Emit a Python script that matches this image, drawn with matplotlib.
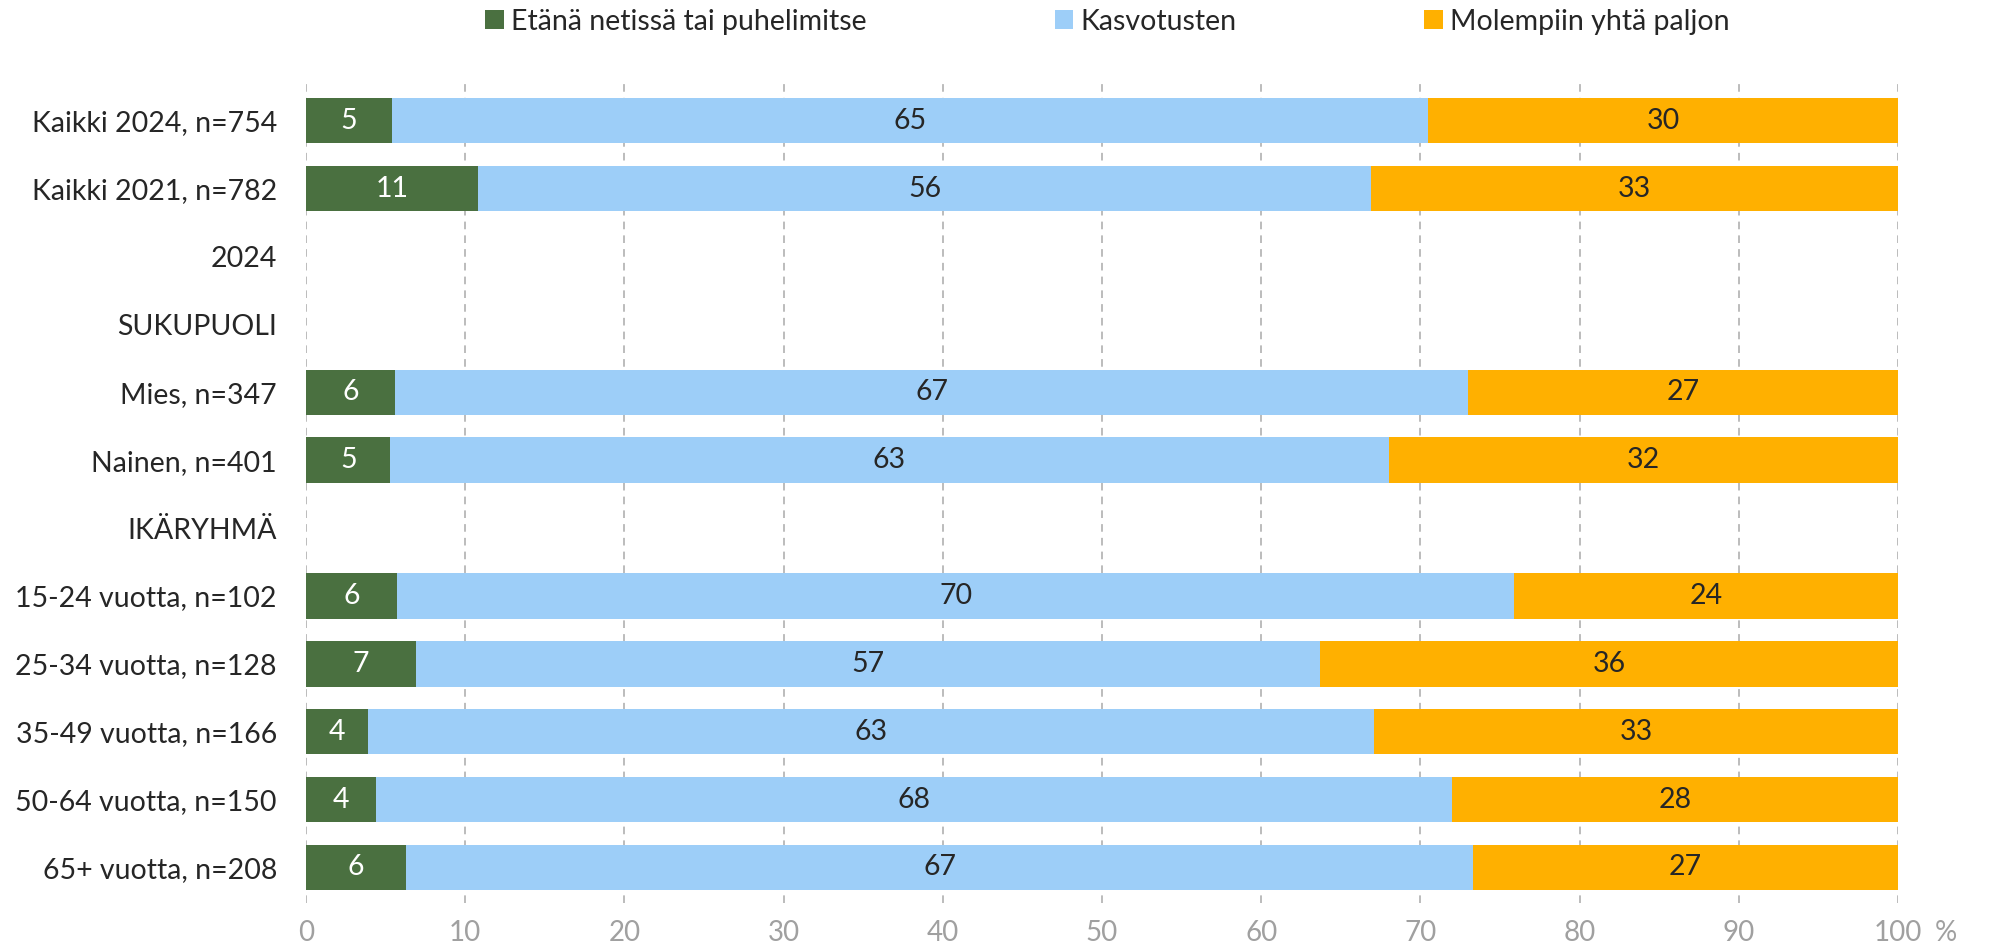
import numpy as np
from matplotlib import pyplot as plt

plt.rcParams["font.family"] = ["Lato", "DejaVu Sans"]

categories = [
    "Kaikki 2024, n=754",
    "Kaikki 2021, n=782",
    "2024",
    "SUKUPUOLI",
    "Mies, n=347",
    "Nainen, n=401",
    "IKÄRYHMÄ",
    "15-24 vuotta, n=102",
    "25-34 vuotta, n=128",
    "35-49 vuotta, n=166",
    "50-64 vuotta, n=150",
    "65+ vuotta, n=208",
]

series_names = ["Etänä netissä tai puhelimitse", "Kasvotusten", "Molempiin yhtä paljon"]

# empty rows (headers) are 0
etana = [5.4, 10.8, 0, 0, 5.6, 5.3, 0, 5.7, 6.9, 3.9, 4.4, 6.3]
kasvotusten = [65.1, 56.1, 0, 0, 67.4, 62.7, 0, 70.2, 56.8, 63.2, 67.6, 67.0]
molemmat = [29.5, 33.1, 0, 0, 27.0, 32.0, 0, 24.1, 36.3, 32.9, 28.0, 26.7]

colors = ["#4A7040", "#9DCEF8", "#FFB000"]
text_colors = ["white", "#262626", "#262626"]

fig = plt.figure(figsize=(19.9, 9.47), dpi=100)
ax = fig.add_axes([0.1538, 0.046, 0.8, 0.8695])

y = np.arange(len(categories))
left = np.zeros(len(categories))
handles = []
for vals, col, tcol, name in zip([etana, kasvotusten, molemmat], colors, text_colors, series_names):
    vals = np.array(vals, dtype=float)
    bars = ax.barh(y, vals, left=left, height=0.67, color=col, label=name, zorder=3)
    handles.append(bars)
    for yi, (l, v) in enumerate(zip(left, vals)):
        if v > 0:
            ax.text(l + v / 2, yi, f"{v:.0f}", ha="center", va="center",
                    color=tcol, fontsize=20.5, zorder=4)
    left += vals

ax.set_xlim(0, 100)
ax.set_ylim(11.53, -0.6)
ax.set_xticks(np.arange(0, 101, 10))
ax.set_yticks(y)
ax.set_yticklabels(categories)
ax.tick_params(axis="y", length=0, pad=21, labelsize=20.5, labelcolor="#262626")
ax.tick_params(axis="x", length=0, pad=12, labelsize=20, labelcolor="#A0A0A0")
ax.grid(True, axis="x", linestyle=(0, (5, 4)), color="#AAAAAA", linewidth=1.1, zorder=0)
for s in ax.spines.values():
    s.set_visible(False)

ax.text(1.03, -0.036, "%", transform=ax.transAxes, ha="center", va="center",
        fontsize=20, color="#A0A0A0")

fig.legend(handles=handles, labels=series_names, loc="center", bbox_to_anchor=(0.5565, 0.977),
           ncol=3, frameon=False, fontsize=20.5, handlelength=0.65, handleheight=0.65,
           handletextpad=0.25, columnspacing=6.6, labelcolor="#262626")

fig.savefig("out.png", dpi=100)
